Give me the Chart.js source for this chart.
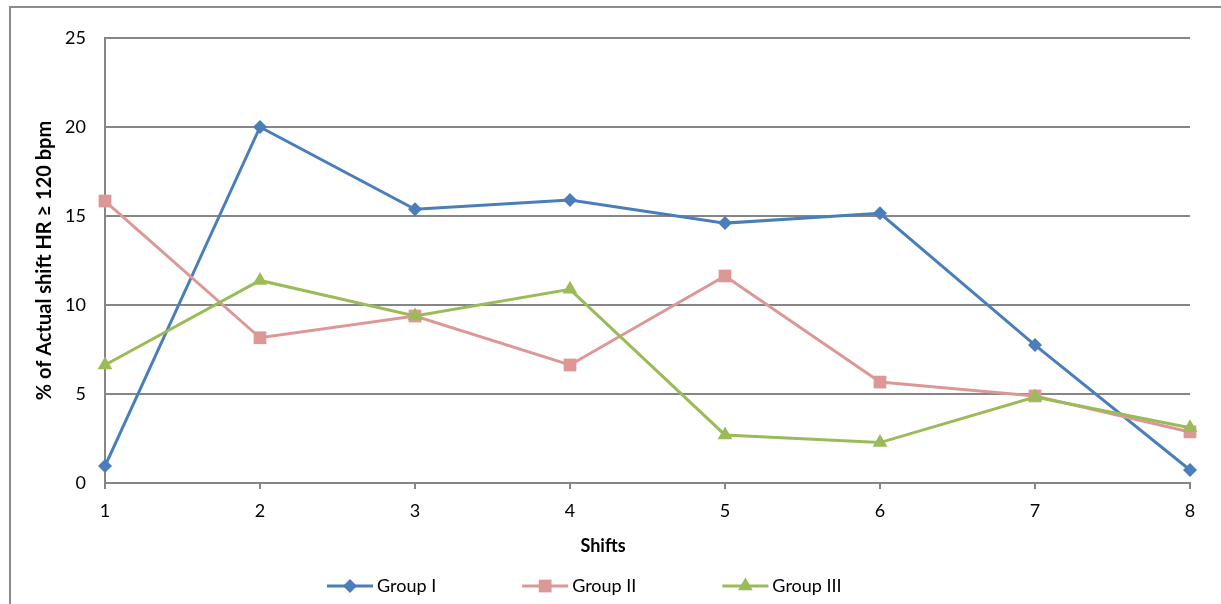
<!DOCTYPE html>
<html>
<head>
<meta charset="utf-8">
<title>Actual shift HR ≥ 120 bpm by shift</title>
<script src="https://cdn.jsdelivr.net/npm/chart.js@4"></script>
<style>
  html, body { margin: 0; padding: 0; background: #ffffff; }
  #wrap { position: relative; width: 1221px; height: 604px; }
</style>
</head>
<body>
<div id="wrap"><canvas id="chart" width="1221" height="604"></canvas></div>
<script>
// Shift numbers along the x axis
const shifts = ['1', '2', '3', '4', '5', '6', '7', '8'];

// Percentage of actual shift time with HR >= 120 bpm, per group
const groupI   = [0.95, 20.0, 15.38, 15.9, 14.6, 15.15, 7.75, 0.73];
const groupII  = [15.84, 8.16, 9.38, 6.63, 11.63, 5.67, 4.89, 2.87];
const groupIII = [6.63, 11.38, 9.38, 10.88, 2.7, 2.27, 4.83, 3.1];

const seriesNames = ['Group I', 'Group II', 'Group III'];
const yTicks = [0, 5, 10, 15, 20, 25];

const FONT = 'Lato, Carlito, Calibri, "Open Sans", sans-serif';
const GRID = '#868686';
const COLORS = ['#4A7EBB', '#DC9896', '#9BBB59'];
const MARKERS = ['rectRot', 'rect', 'triangle'];
const RADII = [7, 9, 8.5];

function drawMarker(ctx, style, x, y, r, color) {
  ctx.save();
  ctx.fillStyle = color;
  ctx.beginPath();
  if (style === 'rectRot') {
    ctx.moveTo(x, y - r); ctx.lineTo(x + r, y); ctx.lineTo(x, y + r); ctx.lineTo(x - r, y);
  } else if (style === 'rect') {
    const s = r * Math.SQRT1_2;
    ctx.rect(x - s, y - s, 2 * s, 2 * s);
  } else {
    const w = r * Math.sqrt(3) / 2;
    ctx.moveTo(x, y - r); ctx.lineTo(x + w, y + r / 2); ctx.lineTo(x - w, y + r / 2);
  }
  ctx.closePath();
  ctx.fill();
  ctx.restore();
}

// Outer frame, x-axis title and the legend
const decorations = {
  id: 'decorations',
  beforeDraw(chart) {
    const ctx = chart.ctx;
    ctx.save();
    ctx.strokeStyle = '#8C8C8C';
    ctx.lineWidth = 2;
    ctx.beginPath();
    ctx.moveTo(10, 604); ctx.lineTo(10, 7); ctx.lineTo(1221, 7);
    ctx.stroke();
    ctx.restore();
  },
  afterDraw(chart) {
    const ctx = chart.ctx;
    ctx.save();
    ctx.fillStyle = '#000000';
    ctx.font = 'bold 18px ' + FONT;
    ctx.textAlign = 'center';
    ctx.textBaseline = 'middle';
    ctx.fillText('Shifts', 603, 546);

    ctx.font = '18px ' + FONT;
    ctx.textAlign = 'left';
    let x = 327;
    const y = 586;
    chart.data.datasets.forEach((ds, i) => {
      ctx.strokeStyle = ds.borderColor;
      ctx.lineWidth = 3;
      ctx.beginPath();
      ctx.moveTo(x, y); ctx.lineTo(x + 46, y);
      ctx.stroke();
      drawMarker(ctx, MARKERS[i], x + 23, y, RADII[i], ds.borderColor);
      ctx.fillStyle = '#000000';
      ctx.fillText(ds.label, x + 50, y);
      x += 50 + ctx.measureText(ds.label).width + 86;
    });
    ctx.restore();
  }
};

const values = [groupI, groupII, groupIII];
const datasets = values.map((v, i) => ({
  label: seriesNames[i],
  data: v,
  borderColor: COLORS[i],
  backgroundColor: COLORS[i],
  borderWidth: 3,
  pointStyle: MARKERS[i],
  pointRadius: RADII[i],
  pointHoverRadius: RADII[i],
  pointBorderWidth: 0,
  tension: 0,
  order: 3 - i
}));

new Chart(document.getElementById('chart'), {
  type: 'line',
  data: { labels: shifts, datasets },
  plugins: [decorations],
  options: {
    responsive: false,
    animation: false,
    layout: { padding: { left: 0, right: 31, top: 38, bottom: 0 } },
    plugins: { legend: { display: false }, tooltip: { enabled: false } },
    scales: {
      x: {
        offset: false,
        grid: { display: true, drawOnChartArea: false, drawTicks: true, tickLength: 6, color: GRID, lineWidth: 2 },
        border: { display: true, color: GRID, width: 2 },
        ticks: { color: '#000000', font: { family: FONT, size: 18 }, padding: 11, maxRotation: 0 },
        afterFit(scale) { scale.height = 121; }
      },
      y: {
        min: 0,
        max: 25,
        afterBuildTicks(scale) { scale.ticks = yTicks.map(v => ({ value: v })); },
        grid: { color: GRID, lineWidth: 2, drawTicks: false },
        border: { display: true, color: GRID, width: 2 },
        ticks: { color: '#000000', font: { family: FONT, size: 18 }, padding: 19 },
        title: {
          display: true,
          text: '% of Actual shift HR ≥ 120 bpm',
          color: '#000000',
          font: { family: FONT, size: 20, weight: 'bold' },
          padding: { top: 33, bottom: 0 }
        },
        afterFit(scale) { scale.width = 105; }
      }
    }
  }
});
</script>
</body>
</html>
